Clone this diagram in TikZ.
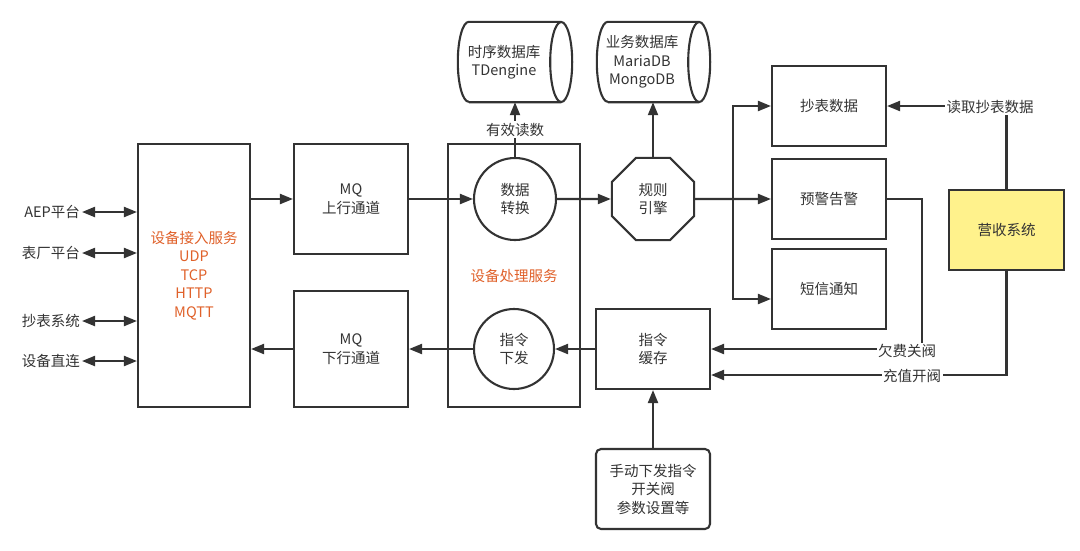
\documentclass[tikz,border=0pt]{standalone}
\usepackage{fontspec}
\setmainfont{Noto Sans CJK SC}
\usetikzlibrary{shapes.geometric,arrows.meta}
\definecolor{ln}{HTML}{333333}
\definecolor{txt}{HTML}{333333}
\definecolor{org}{HTML}{E0612A}
\definecolor{yel}{HTML}{FFF28C}
\tikzset{
  every node/.style={font=\fontsize{14.5}{18.5}\selectfont, text=txt, align=center},
  bx/.style={draw=ln, line width=2.1pt, inner sep=0pt, minimum width=114pt, minimum height=80pt},
  circ/.style={circle, draw=ln, line width=2.1pt, inner sep=0pt, minimum size=#1},
  oct/.style={regular polygon, regular polygon sides=8, draw=ln, line width=2.1pt, inner sep=0pt, minimum size=89pt},
  ghost/.style={inner sep=0pt, minimum width=#1, minimum height=80pt},
  plain/.style={draw=ln, line width=2.1pt},
  arr/.style={draw=ln, line width=2.1pt, -{Triangle[length=13pt,width=10pt]}},
  dbl/.style={draw=ln, line width=2.1pt, {Triangle[length=13pt,width=10pt]}-{Triangle[length=13pt,width=10pt]}},
  lbl/.style={fill=white, inner sep=1.5pt},
  side/.style={anchor=east, inner sep=2pt}
}
\begin{document}
\begin{tikzpicture}[x=1pt,y=-1pt]
\useasboundingbox[fill=white] (0,0) rectangle (1080,550);

% main boxes
\node[bx, minimum width=112pt, minimum height=263pt, text=org] (access) at (194,275.5)
  {设备接入服务\\UDP\\TCP\\HTTP\\MQTT};
\node[bx, minimum height=110pt] (mqup) at (351,199) {MQ\\上行通道};
\node[bx, minimum height=116pt] (mqdown) at (351,349) {MQ\\下行通道};
\node[bx, minimum width=132pt, minimum height=263pt, text=org] (proc) at (514,275.5) {设备处理服务};
\node[circ=82pt, fill=white] (conv) at (515,199) {数据\\转换};
\node[circ=80pt, fill=white] (cmd) at (514,349) {指令\\下发};
\node[oct] (rule) at (653,199) {规则\\引擎};
\node[bx] (chaobiao) at (829,106) {抄表数据};
\node[bx] (yujing) at (829,199) {预警告警};
\node[bx] (duanxin) at (829,289) {短信通知};
\node[bx, minimum width=115pt, fill=yel] (ys) at (1006.5,230) {营收系统};
\node[bx] (cache) at (653,349) {指令\\缓存};
\node[bx, rounded corners=5pt] (manual) at (653,489) {手动下发指令\\开关阀\\参数设置等};

% cylinders
\node[ghost=114pt] (tsdb) at (515,62) {};
\draw[plain] ([xshift=11pt]tsdb.north west) -- ([xshift=-11pt]tsdb.north east)
  ([xshift=11pt]tsdb.south west) -- ([xshift=-11pt]tsdb.south east)
  ([xshift=-11pt]tsdb.east) ellipse [x radius=11pt, y radius=40pt]
  ([xshift=11pt]tsdb.north west) arc [start angle=90, end angle=270, x radius=11pt, y radius=40pt];
\node (tsdbt) at ([xshift=-11pt]tsdb.center) {时序数据库\\TDengine};

\node[ghost=113pt] (bizdb) at (653.5,62) {};
\draw[plain] ([xshift=11pt]bizdb.north west) -- ([xshift=-11pt]bizdb.north east)
  ([xshift=11pt]bizdb.south west) -- ([xshift=-11pt]bizdb.south east)
  ([xshift=-11pt]bizdb.east) ellipse [x radius=11pt, y radius=40pt]
  ([xshift=11pt]bizdb.north west) arc [start angle=90, end angle=270, x radius=11pt, y radius=40pt];
\node (bizdbt) at ([xshift=-11.5pt]bizdb.center) {业务数据库\\MariaDB\\MongoDB};

% left side sources
\node[side] (aep) at (82,212) {AEP平台};
\node[side] (bc) at (82,253) {表厂平台};
\node[side] (cbxt) at (82,321) {抄表系统};
\node[side] (sbzl) at (82,361) {设备直连};
\draw[dbl] (aep.east) -- (aep.east -| access.west);
\draw[dbl] (bc.east) -- (bc.east -| access.west);
\draw[dbl] (cbxt.east) -- (cbxt.east -| access.west);
\draw[dbl] (sbzl.east) -- (sbzl.east -| access.west);

% main flow
\draw[arr] (access.east |- mqup.west) -- (mqup.west);
\draw[arr] (mqdown.west) -- (mqdown.west -| access.east);
\draw[arr] (mqup.east) -- (conv.west);
\draw[arr] (cmd.west) -- (cmd.west -| mqdown.east);
\draw[arr] (cache.west) -- (cmd.east);
\draw[arr] (conv.north) -- node[lbl] {有效读数} (tsdb.south);
\draw[arr] (conv.east) -- (rule.west);
\draw[arr] (rule.north) -- (rule.north |- bizdb.south);

\coordinate (br) at (733,199);
\draw[arr] (rule.east) -- (yujing.west);
\draw[arr] (br) |- (chaobiao.west);
\draw[arr] (br) |- ([yshift=-10pt]duanxin.west);

\draw[arr] (manual.north) -- (cache.south);

\draw[arr] (yujing.east) -- ++(35pt,0) |- (cache.east);
\node[lbl] (qf) at (907,351) {欠费关阀};
\draw[arr] (ys.south) |- ([yshift=-26pt]cache.east);
\node[lbl] (cz) at (912,376) {充值开阀};
\draw[arr] (ys.north) |- (chaobiao.east);
\node[lbl] (dq) at (990,107) {读取抄表数据};
\end{tikzpicture}
\end{document}
